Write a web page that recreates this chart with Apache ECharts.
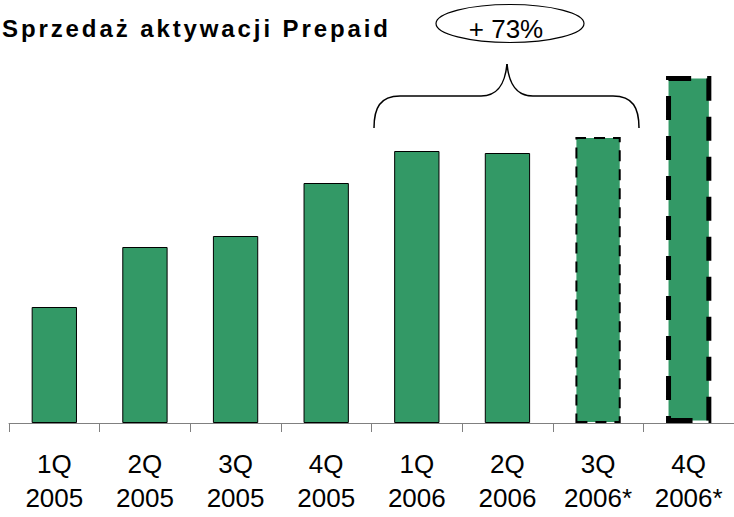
<!DOCTYPE html>
<html lang="pl">
<head>
    <meta charset="UTF-8">
    <title>Sprzedaż aktywacji Prepaid</title>
    <script src="https://cdn.jsdelivr.net/npm/echarts@6/dist/echarts.min.js"></script>
    <style>
        html, body {margin: 0; padding: 0; background: #fff;}
        #chart_box {width: 734px; height: 517px;}
    </style>
</head>
<body>
<div id="chart_box"></div>
<script>
    // dane
    var quarters = ['1Q', '2Q', '3Q', '4Q', '1Q', '2Q', '3Q', '4Q'];
    var years = ['2005', '2005', '2005', '2005', '2006', '2006', '2006*', '2006*'];
    var sales = [116, 176, 187, 240, 272, 270, 286, 347];

    var green = '#339966';
    var titleText = 'Sprzedaż aktywacji Prepaid';
    var growthText = '+ 73%';
    var categories = quarters.map(function (q, i) { return q + '\n' + years[i]; });

    var barData = sales.map(function (v, i) {
        var item = {value: v};
        if (i == 6) {   // prognoza - cienka przerywana ramka
            item.itemStyle = {borderColor: '#000', borderWidth: 2, borderType: [11, 8]};
        } else if (i == 7) {  // prognoza - gruba przerywana ramka
            item.itemStyle = {borderColor: '#000', borderWidth: 5, borderType: [24, 16]};
        }
        return item;
    });

    function curve(x1, y1, c1x, c1y, c2x, c2y, x2, y2) {
        return {
            type: 'bezierCurve',
            shape: {x1: x1, y1: y1, cpx1: c1x, cpy1: c1y, cpx2: c2x, cpy2: c2y, x2: x2, y2: y2},
            style: {fill: null, stroke: '#000', lineWidth: 1.5}
        };
    }
    function line(x1, y1, x2, y2) {
        return {
            type: 'line',
            shape: {x1: x1, y1: y1, x2: x2, y2: y2},
            style: {stroke: '#000', lineWidth: 1.5}
        };
    }

    var chart = echarts.init(document.getElementById('chart_box'), null, {renderer: 'svg'});
    var option = {
        animation: false,
        title: {
            text: titleText,
            left: 2,
            top: 16,
            padding: 0,
            textStyle: {fontFamily: 'Liberation Sans, Arial', fontSize: 24, fontWeight: 'bold', color: '#000'}
        },
        grid: {left: 9, right: -5, top: 23, bottom: 94},
        xAxis: {
            type: 'category',
            data: categories,
            axisLine: {lineStyle: {color: '#808080', width: 1}},
            axisTick: {show: true, length: 9, lineStyle: {color: '#808080', width: 1}},
            axisLabel: {
                margin: 24,
                color: '#000',
                fontFamily: 'Liberation Sans, Arial',
                fontSize: 26,
                lineHeight: 34,
                interval: 0
            }
        },
        yAxis: {
            type: 'value',
            min: 0,
            max: 400,
            show: false,
            splitLine: {show: false}
        },
        series: [{
            type: 'bar',
            data: barData,
            barWidth: '50%',
            itemStyle: {color: green, borderColor: '#000', borderWidth: 1}
        }],
        graphic: [
            {
                type: 'ellipse',
                shape: {cx: 510, cy: 23.5, rx: 74, ry: 19},
                style: {fill: '#fff', stroke: '#000', lineWidth: 1.2}
            },
            {
                type: 'text',
                x: 506, y: 29,
                style: {
                    text: growthText, fill: '#000', fontSize: 26,
                    fontFamily: 'Liberation Sans, Arial',
                    align: 'center', verticalAlign: 'middle'
                }
            },
            // klamra nad 1Q-3Q 2006
            curve(374, 128, 374, 108, 380, 96, 400, 96),
            line(400, 96, 481, 96),
            curve(481, 96, 498, 96, 505, 84, 507, 64),
            curve(507, 64, 509, 84, 516, 96, 533, 96),
            line(533, 96, 613, 96),
            curve(613, 96, 633, 96, 639, 108, 639, 128)
        ]
    };
    chart.setOption(option);

    // rozstrzelony tytul jak w oryginale
    var texts = document.querySelectorAll('#chart_box svg text');
    for (var i = 0; i < texts.length; i++) {
        if (texts[i].textContent == titleText) {
            texts[i].style.letterSpacing = '2.9px';
        }
    }
</script>
</body>
</html>
